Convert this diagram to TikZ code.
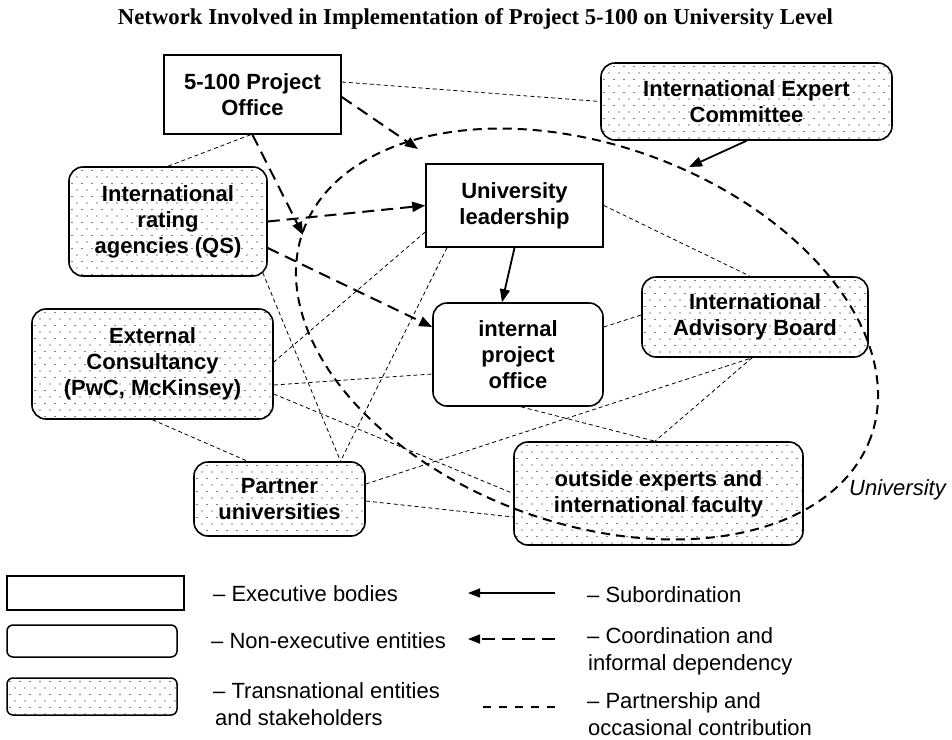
\documentclass[tikz,border=0pt]{standalone}
\usepackage{graphicx}
\usepackage{fontspec}
\setmainfont{Liberation Sans}
\newfontfamily\titlefont{Liberation Serif}
\usetikzlibrary{arrows.meta}
\begin{document}
\begin{tikzpicture}[x=1pt,y=-1pt,
  box/.style={draw, line width=1.6pt, align=center, inner sep=0pt,
    font=\fontsize{22}{26}\selectfont\bfseries},
  exec/.style={box, rectangle, fill=white},
  nonexec/.style={box, rounded corners=14pt, fill=white},
  dotgrid/.style={path picture={
     \fill[black] foreach \i in {0,...,30} {foreach \j in {0,...,18}
       {([xshift={\i*10pt+3pt+mod(\j,2)*5pt}, yshift={-\j*6.5pt-3.5pt}]path picture bounding box.north west) circle (0.6pt)}};}},
  trans/.style={box, rounded corners=14pt, fill=white, dotgrid},
  sub/.style={line width=1.8pt, -{Triangle[length=13pt,width=10pt]}},
  coord/.style={line width=2pt, dash pattern=on 12pt off 7pt, -{Triangle[length=13pt,width=10pt]}},
  part/.style={line width=0.8pt, dash pattern=on 4pt off 3pt},
  ell/.style={line width=2pt, dash pattern=on 9pt off 6pt},
  lgd/.style={font=\fontsize{22}{27}\selectfont, inner sep=0pt, anchor=base west}]
\useasboundingbox (0,0) rectangle (952,739);

% title
\node[anchor=base, inner sep=0pt] (title) at (475.5,24)
  {\resizebox{715pt}{\height}{\titlefont\fontsize{22.7}{23}\selectfont\bfseries Network Involved in Implementation of Project 5-100 on University Level}};

% nodes
\node[exec, minimum width=177pt, minimum height=79pt] (po) at (252.5,94.5) {5-100 Project\\Office};
\node[trans, minimum width=291pt, minimum height=77pt] (iec) at (746.5,101.5) {International Expert\\Committee};
\node[trans, minimum width=198pt, minimum height=109pt] (ira) at (168,221.5) {International\\rating\\agencies (QS)};
\node[exec, minimum width=177pt, minimum height=83pt] (ul) at (514.5,205.5) {University\\leadership};
\node[nonexec, minimum width=170pt, minimum height=103pt] (ipo) at (518,354.5) {internal\\project\\office};
\node[trans, minimum width=226pt, minimum height=80pt] (iab) at (755,317) {International\\Advisory Board};
\node[trans, minimum width=241pt, minimum height=110pt] (ec) at (152.5,364) {External\\Consultancy\\(PwC, McKinsey)};
\node[trans, minimum width=171pt, minimum height=74pt] (pu) at (279.5,499) {Partner\\universities};
\node[trans, minimum width=289pt, minimum height=103pt] (oe) at (658.5,493.5) {outside experts and\\international faculty};

% points on the University ellipse
\coordinate (e1) at (418,149);
\coordinate (e2) at (303,235);
\coordinate (e3) at (689,167);

% partnership lines
\draw[part] ([yshift=12.5pt]po.east) -- (iec.west);
\draw[part] ([xshift=-2pt]po.south) -- (ira.north);
\draw[part] ([xshift=-5pt,yshift=4pt]ira.south east) -- ([xshift=61pt]pu.north);
\draw[part] ([yshift=-26.5pt]ul.west) -- ([yshift=2pt]ec.east);
\draw[part] ([xshift=-67.5pt]ul.south) -- ([xshift=61pt]pu.north);
\draw[part] (ul.east) -- ([xshift=-5pt]iab.north);
\draw[part] ([yshift=27.5pt]ipo.east) -- ([yshift=2pt]iab.west);
\draw[part] ([yshift=-21pt]ec.east) -- ([yshift=-19.5pt]ipo.west);
\draw[part] ([yshift=-30pt]ec.east) -- (oe.west);
\draw[part] (ec.south) -- ([xshift=-32pt]pu.north);
\draw[part] ([yshift=15pt]pu.east) -- ([xshift=-3pt]iab.south);
\draw[part] ([yshift=-2pt]pu.east) -- ([yshift=-23.5pt]oe.west);
\draw[part] ([xshift=3pt]ipo.south) -- ([xshift=-3.5pt]oe.north);
\draw[part] ([xshift=-3pt]iab.south) -- ([xshift=-3.5pt]oe.north);

% coordination arrows
\draw[coord] ([yshift=-2.5pt]po.east) -- (e1);
\draw[coord] (po.south) -- (e2);
\draw[coord] (ira.east) -- (ul.west);
\draw[coord] ([yshift=-26.5pt]ira.east) -- ([yshift=27.5pt]ipo.west);

% subordination arrows
\draw[sub] (iec.south) -- (e3);
\draw[sub] (ul.south) -- ([xshift=-16pt]ipo.north);

% University ellipse (centre 587,334; semi-axes 302,189; major axis tilted 20 deg down to the right)
\draw[ell] plot[domain=0:360, samples=145, smooth]
  ({587+302*cos(\x)*cos(20)-189*sin(\x)*sin(20)}, {334+302*cos(\x)*sin(20)+189*sin(\x)*cos(20)});
\node[anchor=base west, inner sep=0pt, font=\fontsize{22}{26}\selectfont\itshape] (uni) at (849,495) {University};

% legend
\node[draw, line width=1.5pt, minimum width=177pt, minimum height=34pt, inner sep=0pt] (lg1) at (95.5,593) {};
\node[draw, line width=1.5pt, rounded corners=6pt, minimum width=170pt, minimum height=32pt, inner sep=0pt] (lg2) at (92,641) {};
\node[draw, line width=1.5pt, rounded corners=6pt, minimum width=170pt, minimum height=37pt, inner sep=0pt, fill=white, dotgrid] (lg3) at (92,696.5) {};

\node[lgd] (lt1) at (213,601) {– Executive bodies};
\node[lgd] (lt2) at (211,648) {– Non-executive entities};
\node[lgd] (lt3a) at (213,698) {– Transnational entities};
\node[lgd] (lt3b) at (215,725) {and stakeholders};

\coordinate (la1s) at (555,593);
\coordinate (la1e) at (468,593);
\coordinate (la2s) at (555,639);
\coordinate (la2e) at (468,639);
\coordinate (la3s) at (483,707);
\coordinate (la3e) at (555,707);
\draw[line width=1.5pt, -{Triangle[length=12pt,width=9pt]}] (la1s) -- (la1e);
\draw[line width=1.8pt, dash pattern=on 13pt off 7pt, -{Triangle[length=12pt,width=9pt]}] (la2s) -- (la2e);
\draw[line width=1.3pt, dash pattern=on 8pt off 8pt] (la3s) -- (la3e);

\node[lgd] (rt1) at (587,602) {– Subordination};
\node[lgd] (rt2a) at (587,643) {– Coordination and};
\node[lgd] (rt2b) at (588,670) {informal dependency};
\node[lgd] (rt3a) at (587,708) {– Partnership and};
\node[lgd] (rt3b) at (588,735) {occasional contribution};
\end{tikzpicture}
\end{document}
